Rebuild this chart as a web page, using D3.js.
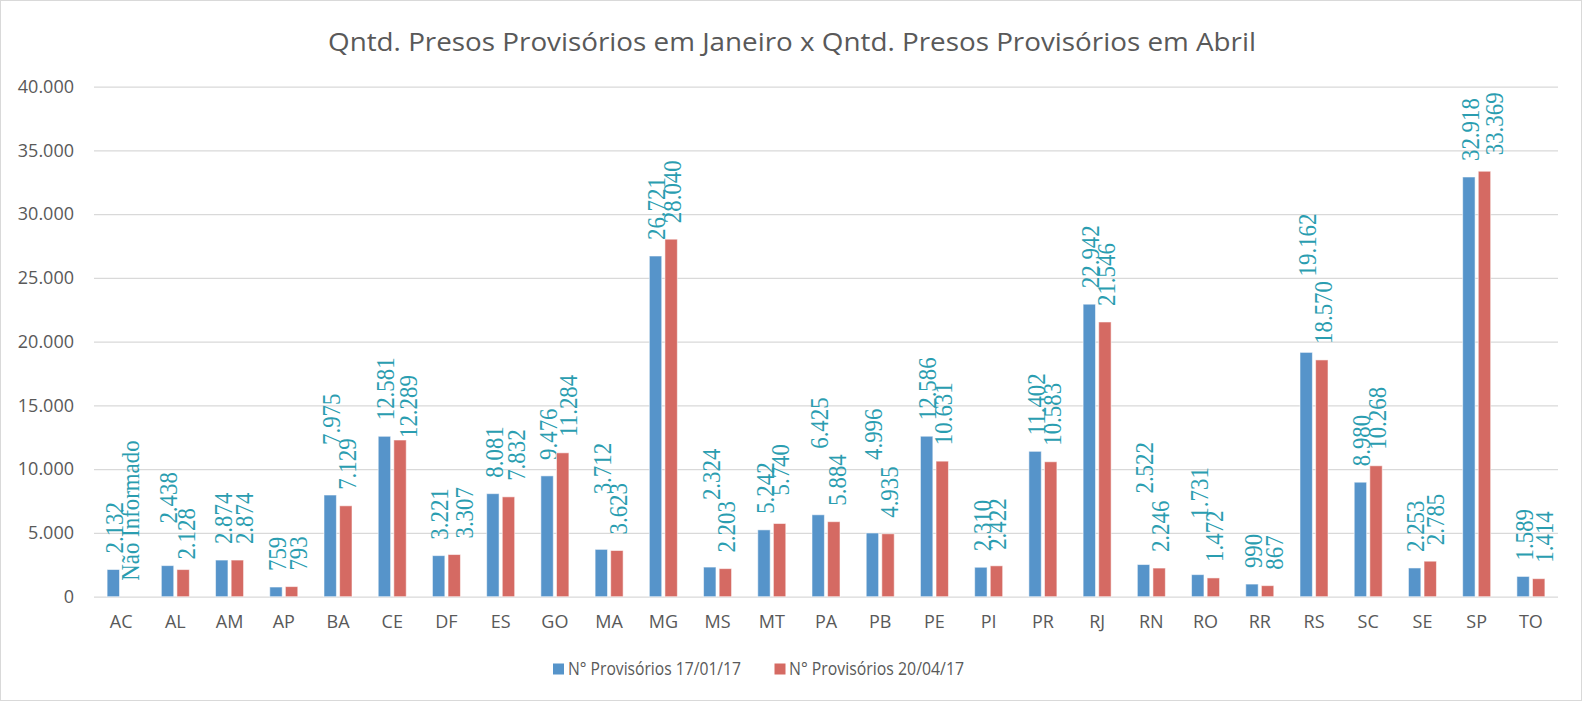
<!DOCTYPE html>
<html>
<head>
<meta charset="utf-8">
<script src="https://cdn.jsdelivr.net/npm/d3@7"></script>
<style>
  html, body { margin: 0; padding: 0; background: #fff; }
  svg { display: block; }
</style>
</head>
<body>
<svg id="chart" width="1582" height="702"></svg>
<script>
// ---- data ----
const categories = ["AC","AL","AM","AP","BA","CE","DF","ES","GO","MA","MG","MS","MT","PA","PB","PE","PI","PR","RJ","RN","RO","RR","RS","SC","SE","SP","TO"];
const seriesNames = ["N° Provisórios 17/01/17", "N° Provisórios 20/04/17"];
const janValues = [2132, 2438, 2874, 759, 7975, 12581, 3221, 8081, 9476, 3712, 26721, 2324, 5242, 6425, 4996, 12586, 2310, 11402, 22942, 2522, 1731, 990, 19162, 8980, 2253, 32918, 1589];
const abrValues = [null, 2128, 2874, 793, 7129, 12289, 3307, 7832, 11284, 3623, 28040, 2203, 5740, 5884, 4935, 10631, 2422, 10583, 21546, 2246, 1472, 867, 18570, 10268, 2785, 33369, 1414];
const yTicks = [0, 5000, 10000, 15000, 20000, 25000, 30000, 35000, 40000];
const missingLabel = "Não Informado";
const titleText = "Qntd. Presos Provisórios em Janeiro x Qntd. Presos Provisórios em Abril";

// ---- style: manual label nudges (px) as dragged in the original ----
const labelNudge = {
  jan: {AL: 26, BA: 34, MA: 39, MS: 51, PA: 50, PB: 57, RN: 55, RO: 40, RS: 60},
  abr: {AL: -6, CE: -14, MT: 12}
};
const labelShiftX = {
  jan: {},
  abr: {AL: 2, AM: 6, AP: 6, CE: 7, DF: 9, ES: 7, GO: 4, PA: 2, RR: 6, SE: 4, SP: 9, TO: 4}
};

const colors = {jan: "#5694CA", abr: "#D56A63"};
const labelColor = "#2A9DB0";
const textColor = "#595959";
const gridColor = "#D9D9D9";

const loc = d3.formatLocale({decimal: ",", thousands: ".", grouping: [3], currency: ["R$", ""]});
const fmt = loc.format(",d");

const svg = d3.select("#chart");
const W = 1582, H = 702;
const plot = {left: 94, right: 1558, top: 86.7, bottom: 596.7};

// outer border
svg.append("rect").attr("x", 0.5).attr("y", 0.5).attr("width", W - 1).attr("height", H - 2)
  .attr("fill", "#fff").attr("stroke", gridColor).attr("stroke-width", 1);

const x = d3.scaleBand().domain(categories).range([plot.left, plot.right]).paddingInner(0).paddingOuter(0);
const x1 = d3.scaleBand().domain(["jan", "abr"]).range([0, x.bandwidth()]).paddingInner(0.205).paddingOuter(0.84);
const y = d3.scaleLinear().domain([0, 40000]).range([plot.bottom, plot.top]);

// y axis with gridlines
const yAxis = svg.append("g").attr("transform", `translate(${plot.left},0)`)
  .call(d3.axisLeft(y).tickValues(yTicks).tickSize(-(plot.right - plot.left)).tickPadding(20).tickFormat(fmt));
yAxis.select(".domain").remove();
yAxis.selectAll(".tick line").attr("stroke", gridColor).attr("stroke-width", 1.3);
yAxis.selectAll(".tick text").attr("fill", textColor)
  .style("font-family", "'Open Sans', sans-serif").style("font-size", "18px");

// x axis
const xAxis = svg.append("g").attr("transform", `translate(0,${plot.bottom})`)
  .call(d3.axisBottom(x).tickSize(0).tickPadding(19));
xAxis.select(".domain").remove();
xAxis.selectAll(".tick text").attr("fill", textColor)
  .style("font-family", "'Open Sans', sans-serif").style("font-size", "18px");

// bars
const rows = categories.map((c, i) => ({cat: c, jan: janValues[i], abr: abrValues[i]}));
const groups = svg.append("g").selectAll("g").data(rows).join("g")
  .attr("transform", d => `translate(${x(d.cat)},0)`);

["jan", "abr"].forEach(key => {
  groups.filter(d => d[key] != null).append("rect")
    .attr("x", x1(key))
    .attr("width", x1.bandwidth())
    .attr("y", d => y(d[key]))
    .attr("height", d => y(0) - y(d[key]))
    .attr("fill", colors[key])
    .attr("stroke", "rgba(255,255,255,0.55)")
    .attr("stroke-width", 1);

  groups.append("text")
    .attr("transform", d => {
      const v = d[key] == null ? 0 : d[key];
      const nudge = (labelNudge[key][d.cat] || 0);
      const ty = y(v) - 16 - nudge;
      const tx = x1(key) + x1.bandwidth() / 2 + 1 + (labelShiftX[key][d.cat] || 0);
      return `translate(${tx},${ty}) rotate(-90) scale(0.88,1)`;
    })
    .attr("dy", "0.34em")
    .attr("text-anchor", "start")
    .attr("fill", labelColor)
    .style("font-family", "'Liberation Serif', serif")
    .style("font-size", "26px")
    .text(d => d[key] == null ? missingLabel : fmt(d[key]));
});

// title
const title = svg.append("text")
  .attr("x", 792).attr("y", 42).attr("dy", "0.35em")
  .attr("text-anchor", "middle")
  .attr("fill", textColor)
  .style("font-family", "'Open Sans', sans-serif").style("font-size", "25px")
  .text(titleText);
title.attr("textLength", 928).attr("lengthAdjust", "spacingAndGlyphs");

// legend
const legend = [
  {key: "jan", name: seriesNames[0], sx: 553, tx: 568, tw: 173},
  {key: "abr", name: seriesNames[1], sx: 774.5, tx: 789, tw: 175}
];
const lg = svg.append("g");
legend.forEach(l => {
  lg.append("rect").attr("x", l.sx).attr("y", 663.5).attr("width", 11).attr("height", 11).attr("fill", colors[l.key]);
  lg.append("text").attr("x", l.tx).attr("y", 669).attr("dy", "0.35em")
    .attr("fill", textColor)
    .style("font-family", "'Open Sans', sans-serif").style("font-size", "18px")
    .attr("textLength", l.tw).attr("lengthAdjust", "spacingAndGlyphs")
    .text(l.name);
});
</script>
</body>
</html>
